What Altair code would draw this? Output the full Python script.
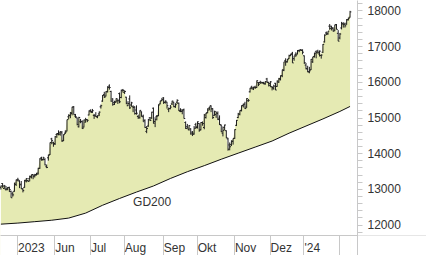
import altair as alt
import pandas as pd

# Nasdaq-100 style daily OHLC bars, one entry per trading day (17 Apr 2023 - 9 Feb 2024)
opens = [13040,13150,13010,12990,13000,13030,12930,12860,12930,13120,
         13250,13220,13130,12990,13040,13220,13230,13290,13330,13400,
         13370,13380,13440,13580,13870,13820,13820,13620,13870,13960,
         14400,14290,14270,14520,14530,14530,14570,14350,14560,14620,
         15020,15050,15110,15300,15040,14990,14740,14880,14880,14730,
         14870,14940,15070,15200,15140,15060,15040,15010,15100,15300,
         15460,15640,15600,15730,15880,15730,15520,15420,15440,15470,
         15670,15560,15770,15700,15570,15330,15520,15350,15300,15300,
         15210,15030,14990,15160,15020,14920,14610,14760,14990,14990,
         15260,14890,15030,15050,15380,15480,15550,15420,15430,15230,
         15250,15380,15430,15310,15430,15400,15170,15170,15220,14860,
         14740,14660,14680,14590,14530,14800,14740,14830,14660,14860,
         14720,15000,15140,15260,15330,15250,15060,15080,15110,14980,
         14790,14560,14720,14630,14400,14230,14240,14330,14420,14780,
         15000,15090,15200,15340,15380,15290,15470,15720,15850,15800,
         15850,15840,15980,15980,15970,15960,15940,16080,15980,15900,
         15860,15810,15960,15870,15990,16060,16170,16320,16600,16560,
         16650,16740,16800,16650,16770,16780,16880,16900,16890,16730,
         16470,16360,16280,16340,16560,16710,16840,16860,16780,16740,
         16830,17120,17370,17360,17560,17560,17490,17450,17600,17360,
         17230,17510,17620,17620,17620,17740,17810]
highs = [13090,13160,13110,13080,13050,13060,12950,12920,13170,13260,
         13310,13240,13220,13020,13250,13300,13260,13370,13400,13410,
         13420,13450,13590,13860,13900,13900,13860,13680,13960,14300,
         14430,14320,14480,14560,14640,14620,14620,14530,14640,14940,
         15090,15150,15300,15320,15100,15000,15020,14960,14920,14940,
         14990,14950,15200,15230,15240,15100,15150,15060,15170,15360,
         15630,15720,15740,15880,15930,15750,15540,15470,15540,15520,
         15700,15780,15800,15760,15580,15460,15620,15440,15340,15310,
         15340,15080,15200,15170,15080,14950,14760,14960,15010,15160,
         15280,15010,15070,15370,15470,15550,15570,15480,15440,15280,
         15350,15470,15440,15400,15510,15420,15260,15230,15250,14890,
         14820,14790,14700,14620,14760,14850,14890,14840,14870,14890,
         15100,15130,15260,15300,15340,15260,15190,15170,15170,15060,
         14800,14750,14800,14640,14430,14300,14360,14410,14670,14930,
         15130,15200,15340,15390,15440,15540,15520,15830,15890,15860,
         15890,16040,15990,16030,16000,16000,16020,16110,16000,16020,
         15880,15920,15970,16040,16110,16180,16340,16560,16660,16640,
         16760,16790,16840,16730,16830,16890,16900,16920,16910,16740,
         16530,16450,16420,16640,16700,16820,16880,16900,16880,16770,
         17060,17330,17410,17420,17620,17570,17530,17600,17620,17450,
         17370,17680,17670,17660,17760,17800,17990]
lows = [12980,13030,13000,12950,12960,12910,12750,12780,12920,13080,
        13210,13020,13000,12900,13030,13180,13200,13210,13290,13270,
        13320,13380,13400,13560,13790,13800,13660,13580,13790,13950,
        14250,14180,14230,14430,14500,14490,14320,14340,14540,14610,
        14950,14980,15060,15080,14990,14780,14720,14840,14680,14720,
        14860,14870,15060,15140,15130,14960,15020,14980,15040,15250,
        15440,15550,15590,15700,15780,15440,15330,15350,15420,15380,
        15400,15540,15700,15660,15370,15320,15240,15300,15150,15080,
        15080,14960,14970,15020,14880,14710,14560,14740,14900,14960,
        14830,14730,14920,15040,15370,15460,15380,15390,15250,15150,
        15230,15350,15290,15270,15380,15180,15150,15090,14970,14680,
        14690,14630,14520,14480,14520,14680,14690,14600,14640,14770,
        14670,14970,15120,15200,15150,14960,15050,14990,14930,14790,
        14590,14470,14640,14420,14070,14080,14200,14240,14400,14760,
        14980,15060,15170,15280,15240,15270,15440,15700,15790,15770,
        15800,15830,15880,15940,15960,15930,15920,15970,15870,15850,
        15760,15780,15770,15860,15970,16040,16130,16300,16450,16540,
        16640,16720,16530,16590,16700,16770,16830,16870,16770,16500,
        16350,16270,16240,16330,16530,16680,16660,16790,16710,16650,
        16810,17100,17310,17320,17460,17440,17410,17420,17470,17140,
        17190,17470,17520,17520,17600,17720,17800]
closes = [13080,13080,13080,12990,13040,12980,12750,12830,13160,13250,
          13250,13110,13010,12950,13240,13290,13210,13350,13390,13340,
          13400,13410,13570,13840,13810,13870,13670,13600,13940,14300,
          14350,14250,14460,14550,14570,14600,14340,14520,14590,14940,
          15060,15140,15290,15080,15020,14800,15000,14890,14690,14930,
          14940,14920,15180,15170,15190,15060,15030,15050,15150,15330,
          15620,15570,15720,15840,15840,15460,15370,15420,15530,15470,
          15440,15760,15760,15730,15400,15390,15270,15410,15280,15110,
          15120,15010,15200,15040,14880,14720,14690,14940,14920,15150,
          14840,14940,15040,15350,15460,15500,15430,15460,15330,15250,
          15290,15460,15300,15360,15480,15200,15210,15190,14970,14690,
          14700,14770,14540,14560,14700,14720,14880,14640,14860,14830,
          15070,15120,15210,15300,15240,15000,15170,15130,14940,14800,
          14600,14640,14790,14430,14110,14180,14340,14410,14660,14920,
          15100,15190,15330,15360,15250,15530,15480,15820,15830,15850,
          15840,16030,15930,15990,15980,15960,16010,15990,15950,16000,
          15840,15880,15770,16020,16090,16170,16340,16560,16560,16620,
          16730,16770,16530,16730,16750,16870,16880,16880,16830,16540,
          16370,16280,16310,16630,16700,16790,16820,16830,16860,16750,
          17050,17310,17330,17420,17500,17520,17420,17600,17470,17140,
          17340,17640,17610,17570,17740,17780,17960]

# 200-day average (GD200), read at selected trading-day positions
gd_idx = [0, 10, 20, 30, 40, 50, 60, 70, 80, 90, 100, 110, 120, 130, 140,
          150, 160, 170, 180, 190, 200, 206]
gd_val = [12010, 12040, 12080, 12120, 12180, 12320, 12540, 12730, 12910, 13080,
          13290, 13480, 13650, 13830, 14000, 14170, 14340, 14560, 14760, 14960,
          15170, 15310]

# month boundaries (trading-day positions) and their labels
month_ticks = [9.5, 31.5, 52.5, 72.5, 95.5, 115.5, 137.5, 158.5, 178.5, 199.5]
month_labels = ["2023", "Jun", "Jul", "Aug", "Sep", "Okt", "Nov", "Dez", "'24", ""]

y_ticks = [11800, 12000, 12200, 12400, 12600, 12800, 13000, 13200, 13400, 13600,
           13800, 14000, 14200, 14400, 14600, 14800, 15000, 15200, 15400, 15600,
           15800, 16000, 16200, 16400, 16600, 16800, 17000, 17200, 17400, 17600,
           17800, 18000, 18200]

label_text = "GD200"
label_pos = (78.0, 12530)

FONT = "Liberation Sans"
AXC = "#c8c8c8"
TXT = "#333333"
FILL = "#e5eab3"
INK = "#1e1e1e"

df = pd.DataFrame({"i": list(range(len(closes))), "o": opens, "h": highs,
                   "l": lows, "c": closes})
gd = pd.DataFrame({"i": gd_idx, "v": gd_val})
one = pd.DataFrame({"a": [0]})

xs = alt.Scale(domain=[-0.53, 210.1], nice=False, zero=False)
ys = alt.Scale(domain=[11706, 18294], nice=False, zero=False)

lab_arr = "[" + ",".join('"%s"' % s for s in month_labels) + "]"
val_arr = "[" + ",".join(str(v) for v in month_ticks) + "]"
xaxis = alt.Axis(values=month_ticks, labelExpr=lab_arr + "[indexof(" + val_arr + ", datum.value)]",
                 grid=False, domainColor=AXC, tickColor=AXC, tickSize=20,
                 labelAlign="left", labelBaseline="alphabetic", labelPadding=-4,
                 labelOffset=0.5, labelFont=FONT, labelFontSize=12, labelColor=TXT,
                 labelFlush=False, labelOverlap=False, labelBound=False,
                 title=None, zindex=1)
yaxis = alt.Axis(orient="right", values=y_ticks,
                 labelExpr="datum.value % 1000 == 0 ? format(datum.value, 'd') : ''",
                 grid=False, domainColor=AXC, tickColor=AXC, tickSize=5,
                 labelPadding=5, labelFont=FONT, labelFontSize=12, labelColor=TXT,
                 labelOverlap=False, title=None, zindex=1)


def X(field="i:Q"):
    return alt.X(field, scale=xs, axis=xaxis)


def Y(field):
    return alt.Y(field, scale=ys, axis=yaxis)


area = alt.Chart(df).mark_area(color=FILL, interpolate="linear").encode(
    x=X(), y=Y("c:Q"), y2=alt.value("height"))
white = alt.Chart(gd).mark_area(color="white", interpolate="linear").encode(
    x=X(), y=Y("v:Q"), y2=alt.value("height"))
gdline = alt.Chart(gd).mark_line(color="#111111", strokeWidth=1).encode(
    x=X(), y=Y("v:Q"))
hl = alt.Chart(df).mark_rule(color=INK, strokeWidth=1).encode(
    x=X(), y=Y("l:Q"), y2="h:Q")
op = alt.Chart(df).mark_rule(color=INK, strokeWidth=1, xOffset=-1.3, x2Offset=0).encode(
    x=X(), x2="i:Q", y=Y("o:Q"))
cl = alt.Chart(df).mark_rule(color=INK, strokeWidth=1, xOffset=0, x2Offset=1.3).encode(
    x=X(), x2="i:Q", y=Y("c:Q"))
txt = alt.Chart(one).mark_text(text=label_text, font=FONT, fontSize=12, color=TXT,
                               align="left", baseline="alphabetic").encode(
    x=alt.X(datum=label_pos[0], scale=xs, axis=xaxis),
    y=alt.Y(datum=label_pos[1], scale=ys, axis=yaxis))
vext = alt.Chart(one).mark_rule(color=AXC, strokeWidth=1).encode(
    x=alt.value(357.5), y=alt.value(235), y2=alt.value(255))
hext = alt.Chart(one).mark_rule(color="#e6e6e6", strokeWidth=1).encode(
    x=alt.value(358), x2=alt.value(426), y=alt.value(235.5))

chart = alt.layer(area, white, gdline, hl, op, cl, txt, vext, hext).properties(
    width=357, height=235,
    padding={"left": 0, "top": 0, "right": 69, "bottom": 20},
    autosize=alt.AutoSizeParams(type="none"),
    background="white"
).configure_view(stroke=None)

chart.save("out.html", embed_options={"renderer": "svg", "actions": False})
